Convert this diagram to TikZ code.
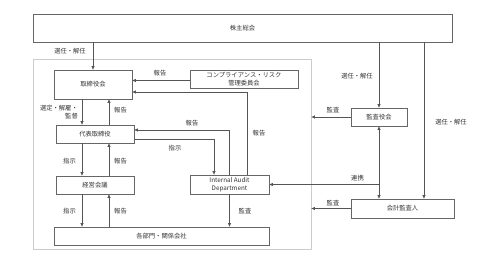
\documentclass[tikz,border=0pt]{standalone}
\usepackage{fontspec}
\setmainfont{Noto Sans CJK JP}
\usetikzlibrary{arrows.meta,positioning}
\definecolor{linegray}{HTML}{555555}
\definecolor{boxgray}{HTML}{666666}
\definecolor{groupgray}{HTML}{CCCCCC}
\definecolor{textgray}{HTML}{333333}
\begin{document}
\begin{tikzpicture}[x=1pt,y=-1pt,>={Triangle[length=3.5pt,width=3pt]},
  font=\fontsize{6.3}{7.5}\selectfont,text=textgray,
  box/.style={draw=boxgray,line width=0.7pt,inner sep=0pt,align=center},
  group/.style={draw=groupgray,line width=0.8pt,inner sep=0pt},
  arr/.style={->,draw=linegray,line width=0.7pt},
  lbl/.style={inner sep=0pt}]
\useasboundingbox (0,0) rectangle (493,267);
\node[group,minimum width=278pt,minimum height=190pt] (grp) at (172,154) {};
\node[box,minimum width=419pt,minimum height=28pt] (sh) at (242.5,28) {株主総会};
\node[box,minimum width=78pt,minimum height=29pt] (bod) at (93,84.5) {取締役会};
\node[box,minimum width=108pt,minimum height=18pt] (crc) at (244,79) {コンプライアンス・リスク\\管理委員会};
\node[box,minimum width=78pt,minimum height=18pt] (ceo) at (95,134) {代表取締役};
\node[box,minimum width=78pt,minimum height=18pt] (mgmt) at (95,185) {経営会議};
\node[box,minimum width=79pt,minimum height=19pt] (ia) at (229.5,184.5) {Internal Audit\\Department};
\node[box,minimum width=215pt,minimum height=18pt] (dept) at (161.5,236) {各部門・関係会社};
\node[box,minimum width=56pt,minimum height=18pt] (kac) at (379,117) {監査役会};
\node[box,minimum width=103pt,minimum height=19pt] (aud) at (402.5,208.5) {会計監査人};
% shareholders
\draw[arr] (sh.south -| bod) -- (bod.north);
\draw[arr] (sh.south -| kac) -- (kac.north);
\coordinate (audr) at ([xshift=21.5]aud.north);
\draw[arr] (sh.south -| audr) -- (audr);
% board and executives
\draw[arr] ([yshift=-1.5]crc.west) -- ([yshift=-1.5]crc.west -| bod.east);
\draw[arr] ([xshift=17.5]ia.north) |- ([yshift=-7.5]bod.east);
\draw[arr] ([xshift=-11]bod.south) -- ([xshift=-11]bod.south |- ceo.north);
\draw[arr] ([xshift=16]bod.south |- ceo.north) -- ([xshift=16]bod.south);
\draw[arr] ([xshift=-0.5]ia.north) |- ([yshift=4]ceo.east);
\draw[arr] ([yshift=-5]ceo.east) -| ([xshift=-15.5]ia.north);
\draw[arr] ([xshift=-13]ceo.south) -- ([xshift=-13]mgmt.north);
\draw[arr] ([xshift=14]mgmt.north) -- ([xshift=14]ceo.south);
\draw[arr] ([xshift=-13]mgmt.south) -- ([xshift=-13]mgmt.south |- dept.north);
\draw[arr] ([xshift=14]mgmt.south |- dept.north) -- ([xshift=14]mgmt.south);
\draw[arr] (ia.south) -- (ia.south |- dept.north);
% auditors
\draw[arr] (kac.west) -- (kac.west -| grp.east);
\draw[arr] (aud.west) -- (aud.west -| grp.east);
\draw[arr,<->] (kac.south) -- (kac.south |- aud.north);
\draw[arr] (kac.south |- ia.east) -- (ia.east);
% labels
\node[lbl] (l1) at (70,51) {選任・解任};
\node[lbl] (l2) at (160,73) {報告};
\node[lbl] (l3) at (259,133) {報告};
\node[lbl,align=right,anchor=east] (l4) at (78,112) {選定・解雇・\\監督};
\node[lbl] (l5) at (120.5,110) {報告};
\node[lbl] (l6) at (192,123) {報告};
\node[lbl] (l7) at (175,148) {指示};
\node[lbl] (l8) at (69.5,161) {指示};
\node[lbl] (l9) at (120.5,161) {報告};
\node[lbl] (l10) at (69.5,211) {指示};
\node[lbl] (l11) at (120.5,211) {報告};
\node[lbl] (l12) at (245,211) {監査};
\node[lbl] (l13) at (357,76) {選任・解任};
\node[lbl] (l14) at (333,110) {監査};
\node[lbl] (l15) at (451,122) {選任・解任};
\node[lbl] (l16) at (357.5,178) {連携};
\node[lbl] (l17) at (333,203) {監査};
\end{tikzpicture}
\end{document}
